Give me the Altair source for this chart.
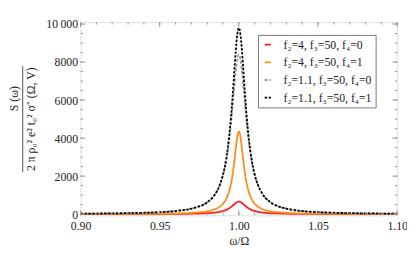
import altair as alt
import pandas as pd

# omega/Omega sample positions
x_vals = [0.90, 0.92, 0.94, 0.95, 0.96, 0.97, 0.975, 0.98, 0.985, 0.988, 0.990, 0.992, 0.994, 0.995,
          0.996, 0.997, 0.998, 0.999, 1.000, 1.001, 1.002, 1.003, 1.004, 1.005, 1.006, 1.008,
          1.010, 1.012, 1.015, 1.020, 1.025, 1.030, 1.040, 1.050, 1.060, 1.080, 1.100]

red = [2, 3, 6, 9, 14, 24, 34, 51, 85, 124, 165, 226, 316, 376, 444, 517, 585, 636, 655,
       636, 585, 517, 444, 376, 316, 226, 165, 124, 85, 51, 34, 24, 14, 9, 6, 3, 2]
orange = [6, 10, 17, 25, 39, 69, 98, 151, 262, 396, 548, 800, 1244, 1591, 2061, 2677, 3402, 4063, 4345,
          4063, 3402, 2677, 2061, 1591, 1244, 800, 548, 396, 262, 151, 98, 69, 39, 25, 17, 10, 6]
gray = [27, 42, 75, 108, 167, 293, 415, 631, 1060, 1546, 2060, 2828, 3985, 4748, 5628, 6578, 7480, 8149, 8400,
        8149, 7480, 6578, 5628, 4748, 3985, 2828, 2060, 1546, 1060, 631, 415, 293, 167, 108, 75, 42, 27]
black = [26, 41, 73, 105, 163, 286, 407, 620, 1051, 1548, 2085, 2908, 4204, 5091, 6156, 7352, 8537, 9450, 9800,
         9450, 8537, 7352, 6156, 5091, 4204, 2908, 2085, 1548, 1051, 620, 407, 286, 163, 105, 73, 41, 26]

series_names = ["f₂=4, f₃=50, f₄=0", "f₂=4, f₃=50, f₄=1",
                "f₂=1.1, f₃=50, f₄=0", "f₂=1.1, f₃=50, f₄=1"]
series_values = [red, orange, gray, black]
colors = ["#ff1a1a", "#ff8c1a", "#999999", "#000000"]
dashes = [[1, 0], [1, 0], [3, 2], [2.5, 1.5]]
widths = [1.8, 1.8, 1.5, 3.0]

x_ticks = [0.90, 0.95, 1.00, 1.05, 1.10]
x_minor = [round(0.90 + 0.01 * i, 2) for i in range(21)]
y_ticks = [0, 2000, 4000, 6000, 8000, 10000]
y_minor = [500 * i for i in range(21)]

rows = []
for name, vals in zip(series_names, series_values):
    for xv, yv in zip(x_vals, vals):
        rows.append({"x": xv, "y": yv, "series": name})
df = pd.DataFrame(rows)

W, H = 323, 197
xs = alt.Scale(domain=[0.90, 1.10], nice=False, zero=False)
ys = alt.Scale(domain=[-60, 10100], nice=False, zero=False)
serif = "Liberation Serif"
FS = 12

x_axis = alt.Axis(values=x_ticks, format=".2f", title="ω/Ω", grid=False, ticks=False,
                  domain=False, labelFont=serif, labelFontSize=FS, labelColor="#222",
                  labelPadding=6, labelOverlap=False, labelFlush=False,
                  titleFont=serif, titleFontSize=FS, titleFontWeight="normal",
                  titleColor="#222", titlePadding=4)
y_axis = alt.Axis(values=y_ticks, title=None, grid=False, ticks=False, domain=False,
                  labelFont=serif, labelFontSize=FS, labelColor="#222", labelPadding=3,
                  labelOverlap=False, labelFlush=False,
                  labelExpr="datum.value == 10000 ? '10\u2009000' : format(datum.value, 'd')")

lines = alt.Chart(df).mark_line(interpolate="monotone", clip=True).encode(
    x=alt.X("x:Q", scale=xs, axis=x_axis),
    y=alt.Y("y:Q", scale=ys, axis=y_axis),
    color=alt.Color("series:N", scale=alt.Scale(domain=series_names, range=colors),
                    sort=series_names, title=None,
                    legend=alt.Legend(orient="none", legendX=181, legendY=13, symbolType="stroke",
                                      labelFont=serif, labelFontSize=FS, labelColor="#222",
                                      fillColor="white", strokeColor="#777", padding=4,
                                      rowPadding=6, symbolSize=40, symbolStrokeWidth=2,
                                      labelOffset=10)),
    strokeDash=alt.StrokeDash("series:N", scale=alt.Scale(domain=series_names, range=dashes),
                              sort=series_names, title=None),
    strokeWidth=alt.StrokeWidth("series:N", scale=alt.Scale(domain=series_names, range=widths),
                                legend=None),
    order=alt.Order("x:Q"),
)

tick_color = "#999999"
xmaj = pd.DataFrame({"t": x_ticks})
xmin = pd.DataFrame({"t": x_minor})
ymaj = pd.DataFrame({"t": y_ticks})
ymin = pd.DataFrame({"t": y_minor})

def xtick(d, length, top):
    y0 = 0 if top else H
    y1 = length if top else H - length
    return alt.Chart(d).mark_rule(color=tick_color, strokeWidth=1).encode(
        x=alt.X("t:Q", scale=xs, axis=x_axis), y=alt.value(y0), y2=alt.value(y1))

def ytick(d, length, right):
    x0 = W if right else 0
    x1 = W - length if right else length
    return alt.Chart(d).mark_rule(color=tick_color, strokeWidth=1).encode(
        y=alt.Y("t:Q", scale=ys, axis=y_axis), x=alt.value(x0), x2=alt.value(x1))

ticks = [xtick(xmaj, 5, False), xtick(xmin, 2.5, False), xtick(xmaj, 5, True), xtick(xmin, 2.5, True),
         ytick(ymaj, 5, False), ytick(ymin, 2.5, False), ytick(ymaj, 5, True), ytick(ymin, 2.5, True)]

num = alt.Chart(pd.DataFrame({"t": ["S (ω)"]})).mark_text(
    font=serif, fontSize=FS, angle=270, color="#222", baseline="middle").encode(
    text="t:N", x=alt.value(-68), y=alt.value(78))
den = alt.Chart(pd.DataFrame({"t": ["2 π ρ₀² e² t₀² σ⁺ (Ω, V)"]})).mark_text(
    font=serif, fontSize=FS, angle=270, color="#222", baseline="middle").encode(
    text="t:N", x=alt.value(-50), y=alt.value(99))
bar = alt.Chart(pd.DataFrame({"t": [0]})).mark_rule(color="#222", strokeWidth=0.8).encode(
    x=alt.value(-59), y=alt.value(45), y2=alt.value(153))

chart = alt.layer(lines, *ticks, num, den, bar).properties(
    width=W, height=H,
    autosize=alt.AutoSizeParams(type="none"),
    padding={"left": 74, "top": 12, "right": 10, "bottom": 35},
).configure_view(stroke="#999999", strokeWidth=1).configure(background="white")

chart.save("out.html", embed_options={"renderer": "svg", "actions": False})
